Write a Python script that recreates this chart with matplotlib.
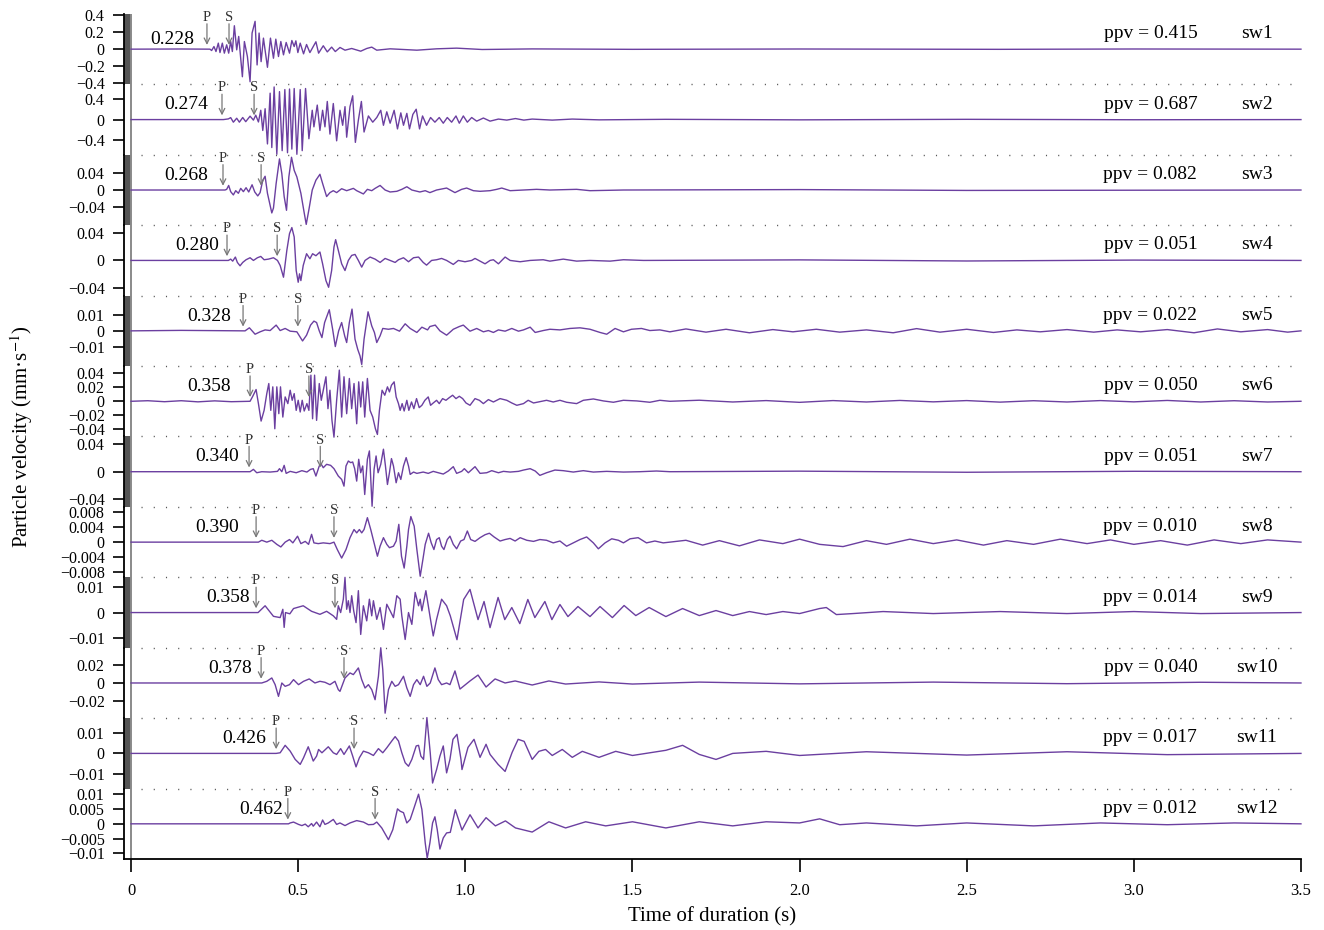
import matplotlib.pyplot as plt
from matplotlib.ticker import FixedLocator, FuncFormatter

plt.rcParams['font.family'] = ['Liberation Serif', 'DejaVu Serif']
plt.rcParams['mathtext.fontset'] = 'stix'

# ---- data ----
names = ['sw1', 'sw2', 'sw3', 'sw4', 'sw5', 'sw6', 'sw7', 'sw8', 'sw9', 'sw10', 'sw11', 'sw12']
ppv = ['0.415', '0.687', '0.082', '0.051', '0.022', '0.050', '0.051', '0.010', '0.014', '0.040', '0.017', '0.012']
p_label = ['0.228', '0.274', '0.268', '0.280', '0.328', '0.358', '0.340', '0.390', '0.358', '0.378', '0.426', '0.462']
p_pick = [0.227, 0.272, 0.275, 0.287, 0.335, 0.356, 0.353, 0.374, 0.374, 0.389, 0.434, 0.469]
s_pick = [0.293, 0.368, 0.389, 0.437, 0.499, 0.532, 0.566, 0.607, 0.610, 0.637, 0.667, 0.730]
y_half = [0.415, 0.68, 0.084, 0.051, 0.022, 0.05, 0.051, 0.0095, 0.014, 0.04, 0.017, 0.012]
y_ticks = [
    [0.4, 0.2, 0, -0.2, -0.4],
    [0.4, 0, -0.4],
    [0.04, 0, -0.04],
    [0.04, 0, -0.04],
    [0.01, 0, -0.01],
    [0.04, 0.02, 0, -0.02, -0.04],
    [0.04, 0, -0.04],
    [0.008, 0.004, 0, -0.004, -0.008],
    [0.01, 0, -0.01],
    [0.02, 0, -0.02],
    [0.01, 0, -0.01],
    [0.01, 0.005, 0, -0.005, -0.01],
]
x_ticks = [0, 0.5, 1.0, 1.5, 2.0, 2.5, 3.0, 3.5]
x_ticklabels = ['0', '0.5', '1.0', '1.5', '2.0', '2.5', '3.0', '3.5']

# waveforms: (time s, velocity mm/s)
sw1 = [(0, 0), (0.15, 0.002), (0.236, 0), (.241, -.016), (.248, .031), (.254, -.028), (.261, .071),
       (.266, -.04), (.273, .071), (.279, -.047), (.286, .051), (.292, -.047), (.298, .09), (.303, -.028),
       (.309, .276), (.316, -.008), (.322, .15), (.333, -.325), (.339, .09), (.348, -.087), (.356, -.384),
       (.362, .19), (.371, .328), (.377, -.186), (.383, .19), (.389, -.147), (.396, .13), (.408, -.214),
       (.417, .13), (.426, -.107), (.433, .118), (.441, -.087), (.448, .09), (.456, -.067), (.464, .079),
       (.474, -.047), (.481, .102), (.488, .031), (.493, .098), (.499, -.04), (.506, .071), (.516, -.055),
       (.525, .055), (.535, -.04), (.545, .031), (.553, .087), (.561, -.047), (.575, .04), (.587, -.032),
       (.6, .024), (.611, -.028), (.625, .02), (.64, -.012), (.66, .008), (.687, -.024), (.705, .008),
       (.72, .024), (.735, -.012), (.775, .004), (.855, -.012), (.914, .004), (.974, .012), (1.05, -.004),
       (1.2, .003), (1.5, -.002), (2.0, .002), (2.6, -.002), (3.0, .002), (3.5, 0)]
sw2 = [(0, 0), (0.276, 0), (.291, .013), (.298, .038), (.306, -.05), (.316, .026), (.324, -.05), (.334, .04),
       (.343, -.04), (.356, .066), (.366, -.01), (.373, .085), (.381, -.046), (.388, .18), (.394, -.21),
       (.401, .21), (.408, -.47), (.416, .51), (.421, -.54), (.428, .63), (.436, -.67), (.444, .54),
       (.452, -.60), (.46, .58), (.468, -.64), (.474, .59), (.481, -.57), (.488, .60), (.496, -.67),
       (.506, .58), (.512, -.60), (.522, .60), (.532, -.37), (.542, .18), (.547, -.14), (.557, .28),
       (.565, -.21), (.573, .18), (.58, -.14), (.587, .35), (.595, -.28), (.605, .31), (.615, -.41),
       (.625, .18), (.633, -.11), (.64, .25), (.645, -.34), (.655, .25), (.663, .46), (.671, -.44),
       (.68, -.01), (.689, .35), (.697, -.24), (.71, .07), (.723, -.05), (.735, .04), (.747, .18),
       (.755, -.11), (.765, .15), (.775, -.07), (.787, .18), (.797, -.18), (.807, .13), (.815, -.11),
       (.825, .12), (.833, -.18), (.843, .10), (.853, .20), (.863, -.18), (.872, .07), (.884, -.11),
       (.896, .04), (.909, -.05), (.922, .04), (.934, -.07), (.946, .04), (.959, -.05), (.972, .07),
       (.982, -.07), (.994, .07), (1.006, -.05), (1.019, .04), (1.034, -.03), (1.054, .03), (1.074, -.03),
       (1.099, .01), (1.124, -.01), (1.15, .02), (1.175, -.01), (1.2, .01), (1.26, -.01), (1.32, .01),
       (1.4, -.005), (1.6, .005), (2.0, -.005), (2.5, .005), (3.0, -.003), (3.5, 0)]
sw3 = [(0, 0), (.281, 0), (.286, .0016), (.292, .0109), (.298, -.0039), (.306, -.0117), (.313, -.0016),
       (.321, -.0078), (.328, .0039), (.336, -.0039), (.344, .0055), (.352, -.0047), (.362, .0125),
       (.370, -.0047), (.379, -.0141), (.386, -.0062), (.394, .0234), (.401, .0328), (.408, -.0078),
       (.421, -.0547), (.426, -.043), (.434, .0156), (.444, .0742), (.451, .039), (.458, -.0156),
       (.465, -.0484), (.472, .0312), (.480, .0781), (.488, .0469), (.496, .0312), (.508, -.0078),
       (.518, -.0547), (.524, -.082), (.532, -.0469), (.542, 0), (.553, .0234), (.565, .0375),
       (.573, .0156), (.585, -.0156), (.595, -.0062), (.605, -.0016), (.615, -.0062), (.630, .0031),
       (.645, -.0016), (.665, .0039), (.675, -.0016), (.695, -.0094), (.707, .0016), (.72, -.0016),
       (.73, .0039), (.745, .0109), (.76, 0), (.775, -.0047), (.795, -.0031), (.81, .0016), (.825, .0078),
       (.84, 0), (.864, -.0047), (.88, -.0016), (.894, -.0062), (.914, 0), (.944, .0047), (.969, -.0062),
       (.989, .0016), (1.004, .0047), (1.024, -.0016), (1.044, -.0031), (1.074, -.0016), (1.094, .0016),
       (1.109, .0047), (1.134, -.0016), (1.174, 0), (1.213, .0016), (1.253, 0), (1.333, .0016),
       (1.373, -.0016), (1.473, 0), (2.0, .001), (2.5, -.001), (3.5, 0)]
sw4 = [(0, 0), (.291, 0), (.298, .0019), (.304, -.001), (.312, .0049), (.318, -.0029), (.326, -.0078),
       (.334, -.0029), (.344, .001), (.356, .0039), (.366, 0), (.378, .0039), (.388, .0058), (.398, .001),
       (.411, .0019), (.426, .0039), (.438, 0), (.446, -.0073), (.456, -.0243), (.466, .0146), (.474, .0389),
       (.481, .0476), (.488, .034), (.494, -.0146), (.5, -.0316), (.504, -.0194), (.508, -.0292),
       (.515, -.0073), (.525, .0097), (.535, .0024), (.543, .0097), (.553, .0068), (.565, .0122),
       (.573, -.0049), (.583, -.0292), (.591, -.0389), (.600, -.0146), (.607, .0194), (.612, .0301),
       (.620, .0146), (.630, -.0049), (.640, -.0146), (.650, 0), (.660, .0073), (.670, .0087), (.680, 0),
       (.690, -.0097), (.700, 0), (.715, .0049), (.730, .0019), (.745, -.0029), (.760, .0029), (.775, 0),
       (.790, -.0029), (.800, .001), (.815, .0039), (.830, -.0019), (.845, .0039), (.860, .0049),
       (.874, -.0029), (.884, -.0068), (.899, 0), (.914, .001), (.929, .0029), (.944, 0), (.964, -.0058),
       (.979, 0), (.999, -.0019), (1.019, 0), (1.029, .0029), (1.044, -.001), (1.059, -.0049), (1.074, 0),
       (1.084, .001), (1.099, -.0049), (1.119, .0049), (1.134, 0), (1.164, -.0019), (1.194, 0),
       (1.233, .001), (1.253, -.001), (1.293, .0019), (1.333, -.001), (1.373, 0), (1.433, -.001),
       (1.473, .001), (1.533, 0), (2.0, .0008), (2.5, -.0008), (3.0, .0005), (3.5, 0)]
sw5 = [(0, 0), (.15, .0003), (.341, 0), (.354, .0019), (.371, -.0021), (.386, -.0006), (.401, .0006),
       (.416, .0002), (.434, .0036), (.446, .0002), (.461, .0015), (.476, -.0002), (.496, -.0006),
       (.513, -.0063), (.525, -.0027), (.537, .0036), (.547, .0061), (.555, .0052), (.563, 0),
       (.571, -.0042), (.579, .0052), (.593, .0132), (.603, .001), (.611, -.0098), (.621, 0), (.630, .0052),
       (.639, -.0031), (.645, -.0073), (.653, .0052), (.661, .0136), (.670, -.0052), (.678, -.0115),
       (.685, -.0157), (.690, -.021), (.697, -.0052), (.709, .0119), (.720, .0031), (.728, -.001),
       (.735, -.0073), (.745, -.0031), (.753, .0015), (.770, .001), (.785, .0015), (.803, -.0002),
       (.820, .0044), (.835, .0015), (.855, -.001), (.870, .0023), (.887, .0006), (.894, .0027),
       (.910, .0036), (.924, 0), (.944, -.0027), (.964, .001), (.982, .0027), (.994, .0036), (1.014, -.0002),
       (1.034, .0015), (1.054, -.0006), (1.069, .0002), (1.084, -.001), (1.099, .0006), (1.119, -.0002),
       (1.139, .0015), (1.159, -.0002), (1.174, .0006), (1.194, .0023), (1.209, -.001), (1.233, .0002),
       (1.253, .001), (1.283, .0006), (1.313, .0015), (1.343, .0019), (1.373, .001), (1.403, -.001),
       (1.423, -.0021), (1.448, .0015), (1.473, -.0006), (1.497, .001), (1.527, .0015), (1.552, .0002),
       (1.582, .0006), (1.612, -.0006), (1.66, .0012), (1.72, -.0008), (1.78, .001), (1.85, -.0012),
       (1.92, .0008), (1.98, -.0006), (2.05, .001), (2.12, -.0008), (2.2, .0006), (2.28, -.0012),
       (2.35, .0014), (2.42, -.0008), (2.5, .001), (2.58, -.001), (2.65, .0006), (2.72, -.0006),
       (2.8, .0008), (2.88, -.0008), (2.95, .0006), (3.02, -.0006), (3.1, .0008), (3.18, -.0012),
       (3.25, .0012), (3.32, -.0006), (3.4, .0008), (3.46, -.0008), (3.5, 0)]
sw6 = [(0, 0), (.05, .0008), (.1, -.0006), (.15, .0008), (.2, -.0008), (.25, .0006), (.3, -.0006),
       (.356, 0), (.364, .0071), (.374, .0167), (.381, -.0033), (.389, -.0281), (.398, -.0129),
       (.406, .0109), (.412, .0252), (.418, -.0129), (.424, .0205), (.430, -.039), (.436, .0205),
       (.442, -.0176), (.447, .0205), (.454, -.0224), (.461, .0062), (.469, -.0033), (.476, .0157),
       (.482, .0014), (.488, .0109), (.494, -.0129), (.500, .0014), (.506, -.0152), (.512, .0014),
       (.518, -.0138), (.526, -.0033), (.532, -.0129), (.538, .0371), (.543, -.0248), (.549, .0371),
       (.555, -.0271), (.563, .0252), (.569, .0014), (.575, .0157), (.583, .0348), (.589, -.0105),
       (.595, .0157), (.601, -.0271), (.607, -.0509), (.615, .0014), (.623, .0443), (.630, -.0224),
       (.637, .0348), (.645, -.0176), (.653, .0324), (.660, -.0105), (.667, .0252), (.675, -.0319),
       (.681, .0276), (.687, -.0081), (.693, .0276), (.699, -.0224), (.707, .0324), (.715, -.0129),
       (.723, -.0224), (.731, -.039), (.737, -.0471), (.743, -.0129), (.751, .0157), (.759, .0086),
       (.767, .0205), (.773, .0133), (.779, .0228), (.787, .0276), (.793, .0062), (.800, -.0033),
       (.805, -.0129), (.811, -.0033), (.817, -.0138), (.825, .0014), (.831, -.0129), (.839, -.001),
       (.846, -.0105), (.854, .0038), (.862, -.009), (.870, -.0057), (.879, .0014), (.889, .0062),
       (.896, -.0057), (.904, -.0024), (.914, .0014), (.922, -.0033), (.932, .0038), (.942, .0014),
       (.952, .0052), (.962, .0086), (.972, .0038), (.982, .0071), (.992, .0038), (1.002, -.0024),
       (1.014, -.0057), (1.029, .0038), (1.042, .0014), (1.054, -.0033), (1.069, .0024), (1.084, -.001),
       (1.104, .0038), (1.124, .0014), (1.139, -.0024), (1.154, -.0057), (1.174, -.0033), (1.188, .0014),
       (1.204, -.0024), (1.223, -.0005), (1.243, .0014), (1.263, -.001), (1.283, .0014), (1.303, -.0014),
       (1.333, -.0033), (1.353, .0014), (1.383, .0033), (1.413, .0005), (1.443, -.0014), (1.473, .0014),
       (1.513, .0005), (1.552, -.0014), (1.582, .0014), (1.612, 0), (1.7, .0015), (1.8, -.001), (1.9, .001),
       (2.0, -.0015), (2.1, .001), (2.2, -.001), (2.3, .0012), (2.4, -.0008), (2.5, .001), (2.6, -.0012),
       (2.7, .0008), (2.8, -.001), (2.9, .001), (3.0, -.0008), (3.1, .0012), (3.2, -.001), (3.3, .0008),
       (3.4, -.001), (3.5, 0)]
sw7 = [(0, 0), (.356, 0), (.366, .0034), (.376, -.0015), (.391, 0), (.416, -.0005), (.438, .0005),
       (.444, .0044), (.451, 0), (.458, .0092), (.464, -.0024), (.476, .0005), (.494, -.0015), (.511, .0015),
       (.526, -.0005), (.537, .0034), (.545, .0044), (.553, -.0063), (.563, .0083), (.569, .0107),
       (.575, .0058), (.585, .0107), (.597, .0092), (.607, .0044), (.620, -.0063), (.630, -.0112),
       (.637, -.0209), (.643, .0083), (.650, .0155), (.657, .0131), (.663, .0141), (.669, .0044),
       (.675, -.0136), (.681, .018), (.687, -.0015), (.693, .0083), (.699, -.033), (.707, .018),
       (.713, .0301), (.721, -.05), (.727, .0034), (.733, .0228), (.739, -.0015), (.747, .0107),
       (.755, .0326), (.761, .0083), (.767, -.0185), (.773, -.0015), (.779, .019), (.785, .0083),
       (.793, -.016), (.800, -.0015), (.807, -.0112), (.815, .0083), (.823, .0204), (.830, .0083),
       (.835, -.0039), (.845, -.0005), (.855, -.0024), (.864, -.0015), (.874, -.0005), (.889, -.0024),
       (.904, .0005), (.919, -.0015), (.934, -.0034), (.949, .001), (.964, .0073), (.974, -.0024),
       (.989, .0005), (.997, .0044), (1.009, -.0015), (1.029, .0073), (1.044, -.0024), (1.064, -.0015),
       (1.079, .0015), (1.099, -.0015), (1.114, .0005), (1.134, -.0005), (1.159, .0005), (1.174, .0024),
       (1.194, .0044), (1.209, .001), (1.223, -.0053), (1.243, -.0015), (1.268, .0024), (1.293, .0015),
       (1.323, -.0005), (1.353, .0015), (1.383, -.0005), (1.423, .0005), (1.473, -.0005), (1.522, 0),
       (1.572, .001), (1.612, 0), (2.0, .0008), (2.5, -.0008), (3.0, .0006), (3.5, 0)]
sw8 = [(0, 0), (.381, 0), (.391, .0005), (.406, 0), (.421, .0005), (.436, -.0006), (.448, -.0013),
       (.461, 0), (.474, .0007), (.484, -.0002), (.498, .0016), (.508, -.0004), (.521, .0002),
       (.531, -.0006), (.540, .0021), (.547, -.0002), (.560, -.0004), (.575, -.0002), (.595, -.0004),
       (.607, 0), (.617, -.002), (.630, -.0043), (.643, -.002), (.655, .0012), (.667, .0034), (.675, .0025),
       (.683, .0034), (.690, .0025), (.697, .0034), (.707, .0066), (.717, .0034), (.727, -.0002),
       (.737, -.0038), (.745, -.0011), (.755, .0012), (.765, -.0006), (.773, -.0015), (.785, -.0011),
       (.793, .0003), (.801, .0048), (.809, -.0038), (.817, -.007), (.825, -.0011), (.830, .0034),
       (.837, .0069), (.847, .0043), (.855, -.002), (.865, -.0092), (.873, -.0047), (.880, -.0006),
       (.890, .0024), (.898, -.0002), (.906, -.002), (.914, .0007), (.922, .0012), (.929, -.0011),
       (.936, -.002), (.946, .0007), (.954, .0016), (.964, -.0006), (.974, -.0018), (.986, .0003),
       (.996, .0007), (1.006, .003), (1.016, .0007), (1.029, .0002), (1.044, .0012), (1.059, .002),
       (1.072, .0024), (1.086, .0014), (1.104, .0003), (1.119, .0007), (1.134, .001), (1.149, .0003),
       (1.164, .0012), (1.184, .0005), (1.204, .0002), (1.223, .0007), (1.243, .0005), (1.263, -.0002),
       (1.283, .0003), (1.303, -.0011), (1.323, -.0002), (1.343, .0007), (1.363, .0014), (1.383, -.0002),
       (1.398, -.0018), (1.418, -.0002), (1.438, .0009), (1.458, .0005), (1.473, -.0002), (1.493, .0009),
       (1.517, .0012), (1.542, -.0002), (1.567, .0003), (1.592, -.0002), (1.612, 0), (1.66, .0005),
       (1.71, -.0008), (1.76, .0004), (1.82, -.001), (1.88, .0006), (1.95, -.0004), (2.0, .0008),
       (2.06, -.0006), (2.13, -.0012), (2.2, .0004), (2.26, -.0006), (2.33, .0008), (2.4, -.0004),
       (2.47, .0006), (2.55, -.0008), (2.62, .0004), (2.7, -.0006), (2.78, .0008), (2.86, -.0004),
       (2.93, .0006), (3.0, -.0006), (3.08, .0004), (3.16, -.0008), (3.24, .0006), (3.32, -.0004),
       (3.4, .0006), (3.5, 0)]
sw9 = [(0, 0), (0.38, 0), (.401, .0027), (.426, -.0015), (.446, -.002), (.454, .0013), (.458, -.0059),
       (.462, 0), (.475, -.0005), (.486, .0016), (.515, .0027), (.54, .0005), (.565, -.0007), (.585, .0005),
       (.605, -.0013), (.615, -.0027), (.62, .0027), (.627, 0), (.635, .0053), (.640, .014), (.645, .0013),
       (.650, .0047), (.655, 0), (.660, .0067), (.666, .0007), (.673, -.004), (.680, .0087), (.687, -.0087),
       (.695, .0027), (.705, -.0033), (.713, .0053), (.72, -.0013), (.725, .0047), (.735, -.0027),
       (.745, .002), (.755, -.0067), (.765, .0033), (.775, .0007), (.785, -.002), (.795, .0067),
       (.805, .0053), (.81, -.0013), (.820, -.0107), (.83, 0), (.84, -.0047), (.850, .008), (.86, .0027),
       (.865, .0053), (.87, .0007), (.882, .0087), (.894, -.0013), (.904, -.0093), (.914, -.0027),
       (.929, .0053), (.944, .0027), (.955, -.0013), (.975, -.0108), (.995, .0052), (1.014, .0092),
       (1.038, -.0028), (1.056, .0044), (1.074, -.006), (1.098, .006), (1.118, -.0028), (1.139, .002),
       (1.163, -.0044), (1.187, .0052), (1.208, -.002), (1.238, .0044), (1.259, -.0028), (1.283, .0032),
       (1.307, -.0016), (1.337, .0024), (1.373, -.0016), (1.403, .0024), (1.44, -.002), (1.475, .0028),
       (1.51, -.0012), (1.55, .002), (1.6, -.0016), (1.65, .0016), (1.7, -.0012), (1.75, .0008),
       (1.8, -.0012), (1.85, .0004), (1.9, -.0008), (1.95, .0004), (2.0, -.0004), (2.06, .0016),
       (2.08, .002), (2.11, -.0008), (2.16, -.0004), (2.25, .0004), (2.4, -.0004), (2.6, .0004),
       (2.8, -.0004), (3.0, .0004), (3.2, -.0004), (3.5, 0)]
sw10 = [(0, 0), (.391, 0), (.406, .0019), (.421, .0057), (.431, -.0019), (.441, -.0152), (.451, 0),
        (.461, -.0038), (.474, -.0019), (.486, .0038), (.501, -.0019), (.516, .0019), (.533, .0046),
        (.550, 0), (.565, .0019), (.580, .0008), (.595, -.0019), (.610, .0019), (.620, -.0076),
        (.625, -.0095), (.640, .0057), (.655, .0114), (.665, .0095), (.680, .0171), (.690, .0038),
        (.700, -.0057), (.710, -.0019), (.720, -.0076), (.730, -.019), (.740, .0076), (.747, .04),
        (.753, .0152), (.760, -.0343), (.770, -.0076), (.780, .0019), (.790, -.0038), (.800, -.0019),
        (.815, .0076), (.825, -.0057), (.835, -.0152), (.845, -.0019), (.855, .0038), (.865, -.0019),
        (.875, .0076), (.885, -.0038), (.895, 0), (.909, .0171), (.919, .0038), (.929, -.0019),
        (.944, 0), (.954, -.0019), (.969, .0137), (.984, -.0069), (1.014, .0023), (1.038, .009),
        (1.062, -.0046), (1.089, .0046), (1.119, 0), (1.149, .0023), (1.2, -.0023), (1.25, .0023),
        (1.3, -.0012), (1.4, .0012), (1.5, -.0012), (1.7, .001), (2.0, -.001), (2.4, .001), (2.8, -.0008),
        (3.2, .0008), (3.5, 0)]
sw11 = [(0, 0), (.434, 0), (.446, .0003), (.461, .0039), (.476, .0011), (.491, -.0029), (.506, -.0053),
        (.516, -.0021), (.530, .0032), (.545, -.0037), (.555, -.0013), (.561, .0019), (.571, .0003),
        (.590, .0032), (.605, .0003), (.615, -.0005), (.627, .0023), (.637, -.0005), (.653, .0036),
        (.663, -.0013), (.673, -.0065), (.683, -.0021), (.695, .0011), (.710, .0003), (.725, -.001),
        (.740, .0023), (.753, .0003), (.765, .0027), (.780, .006), (.790, .0081), (.800, .006),
        (.810, .0003), (.820, -.0045), (.830, -.0062), (.840, -.0029), (.853, .0036), (.860, .0039),
        (.867, -.0013), (.875, -.0029), (.885, .0173), (.895, .0003), (.902, -.0143), (.914, -.0078),
        (.924, -.0013), (.934, .0036), (.944, -.0094), (.954, -.0029), (.963, .0068), (.975, .0092),
        (.987, -.0029), (.99, -.0078), (1.008, .0029), (1.026, .0068), (1.044, -.0019), (1.062, .0044),
        (1.074, -.0005), (1.098, -.0053), (1.119, -.0087), (1.14, .0005), (1.158, .0068), (1.176, .0058),
        (1.2, -.0029), (1.22, .001), (1.24, .0019), (1.26, -.001), (1.29, .0019), (1.32, -.0019),
        (1.35, .001), (1.4, -.0019), (1.45, .001), (1.5, -.001), (1.6, .0015), (1.65, .0039), (1.7, -.0005),
        (1.75, -.0029), (1.8, 0), (1.9, .001), (2.0, -.001), (2.2, .0008), (2.5, -.0008), (2.8, .0008),
        (3.1, -.0006), (3.5, 0)]
sw12 = [(0, 0), (.471, 0), (.476, .0003), (.486, .0006), (.501, -.0002), (.511, -.0006), (.521, -.0001),
        (.530, -.001), (.540, .0001), (.545, -.0008), (.555, .0006), (.565, -.001), (.573, .0013),
        (.580, -.0002), (.590, .0003), (.605, .0015), (.615, -.0002), (.625, .0003), (.640, -.0006),
        (.655, .0003), (.675, .0011), (.695, .0006), (.710, -.0003), (.725, -.0002), (.735, .0006),
        (.750, -.0014), (.770, -.0054), (.783, -.002), (.797, .0051), (.805, .0043), (.815, .0038),
        (.825, .0003), (.835, .0015), (.845, .0049), (.860, .0101), (.870, .0049), (.880, -.0065),
        (.886, -.0117), (.894, -.0065), (.902, .0003), (.909, .0024), (.916, -.002), (.924, -.0086),
        (.934, -.0048), (.944, -.0031), (.955, -.0029), (.970, .0048), (.99, -.0021), (1.014, .0031),
        (1.038, -.0014), (1.062, .0021), (1.09, -.0007), (1.12, .001), (1.15, -.0014), (1.2, -.0028),
        (1.25, .0007), (1.3, -.0014), (1.36, .0007), (1.42, -.0007), (1.5, .0007), (1.6, -.0014),
        (1.7, .0007), (1.8, -.0007), (1.9, .0007), (2.0, .0003), (2.06, .0017), (2.12, -.0003),
        (2.2, .0003), (2.35, -.0007), (2.5, .0003), (2.7, -.0007), (2.9, .0003), (3.1, -.0003),
        (3.3, .0003), (3.5, 0)]
traces = [sw1, sw2, sw3, sw4, sw5, sw6, sw7, sw8, sw9, sw10, sw11, sw12]

# ---- layout ----
line_color = '#6b3fa0'
label_end = [0.188, 0.230, 0.230, 0.263, 0.299, 0.299, 0.323, 0.323, 0.356, 0.362, 0.404, 0.455]
x_left = -0.021

fig = plt.figure(figsize=(13.24, 9.3), dpi=100)
axes = fig.subplots(12, 1, sharex=True, gridspec_kw=dict(hspace=0))
fig.subplots_adjust(left=0.0937, right=0.9826, top=0.985, bottom=0.0763)

fmt = FuncFormatter(lambda v, pos: ('%g' % v).replace('-', '\u2212'))

for i, ax in enumerate(axes):
    ax.set_facecolor('none')
    t, v = zip(*traces[i])
    ax.plot(t, v, color=line_color, lw=1.0, clip_on=False, zorder=3)
    h = y_half[i]
    ax.set_ylim(-h, h)
    ax.set_xlim(x_left, 3.5)
    for s in ['top', 'right', 'bottom']:
        ax.spines[s].set_visible(False)
    ax.spines['left'].set_linewidth(1.3)
    ax.yaxis.set_major_locator(FixedLocator(y_ticks[i]))
    ax.yaxis.set_major_formatter(fmt)
    ax.tick_params(axis='y', direction='out', length=8, width=1.2, labelsize=11.5, pad=6)
    ax.tick_params(axis='x', bottom=False, labelbottom=False)

    # side bar
    if i % 2 == 0:
        ax.axvspan(x_left, 0, color='#555555', lw=0)
    ax.axvline(0, color='#8a8a8a', lw=1.4)

    # dotted separator at the top of each panel except the first
    if i > 0:
        ax.plot([0.03, 3.5], [h, h], ls=(0, (0.8, 8)), color='#555555', lw=1.0, clip_on=False)

    tr = ax.get_xaxis_transform()
    for pick, letter in [(p_pick[i], 'P'), (s_pick[i], 'S')]:
        ax.annotate('', xy=(pick, 0.56), xytext=(pick, 0.86), xycoords=tr, textcoords=tr,
                    arrowprops=dict(arrowstyle='->', color='#777777', lw=0.9, shrinkA=0, shrinkB=0))
        ax.text(pick, 0.95, letter, transform=tr, ha='center', va='center', fontsize=10.5, color='#333333')
    ax.text(label_end[i], 0.64 if i == 0 else 0.71, p_label[i], transform=tr, ha='right', va='center',
            fontsize=14)
    ax.text(3.19, 0.72, 'ppv = ' + ppv[i], transform=tr, ha='right', va='center', fontsize=14)
    ax.text(3.368, 0.72, names[i], transform=tr, ha='center', va='center', fontsize=14)

last = axes[-1]
last.spines['bottom'].set_visible(True)
last.spines['bottom'].set_linewidth(1.3)
last.tick_params(axis='x', bottom=True, labelbottom=True, direction='out', length=9, width=1.2,
                 labelsize=12, pad=8)
last.set_xticks(x_ticks)
last.set_xticklabels(x_ticklabels)

fig.text(0.538, 0.014, 'Time of duration (s)', ha='center', va='center', fontsize=15)
fig.text(0.0166, 0.5306, 'Particle velocity (mm\u00b7s$^{-1}$)', rotation=90, ha='center', va='center',
         fontsize=15)

fig.savefig('out.png', dpi=100)
